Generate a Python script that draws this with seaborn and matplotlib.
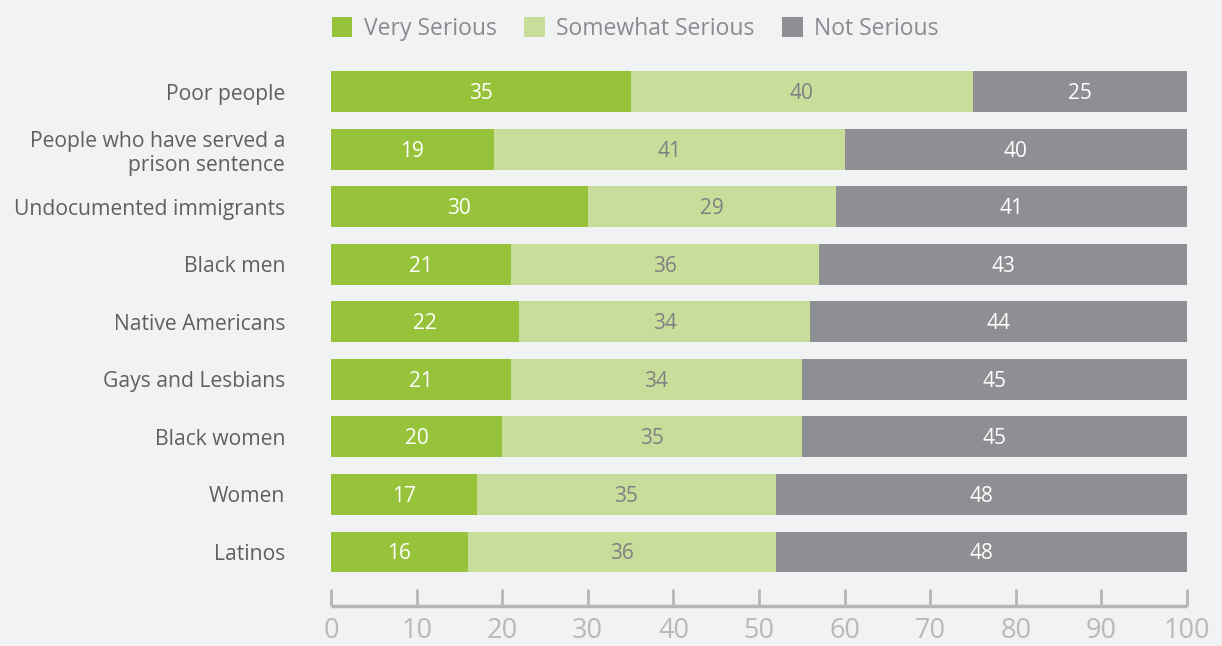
import pandas as pd
import matplotlib.pyplot as plt
import seaborn as sns
from matplotlib.patches import Patch

# --- data ---
groups = [
    'Poor people',
    'People who have served a\nprison sentence',
    'Undocumented immigrants',
    'Black men',
    'Native Americans',
    'Gays and Lesbians',
    'Black women',
    'Women',
    'Latinos',
]
very_serious = [35, 19, 30, 21, 22, 21, 20, 17, 16]
somewhat_serious = [40, 41, 29, 36, 34, 34, 35, 35, 36]
not_serious = [25, 40, 41, 43, 44, 45, 45, 48, 48]
series_names = ['Very Serious', 'Somewhat Serious', 'Not Serious']
x_ticks = [0, 10, 20, 30, 40, 50, 60, 70, 80, 90, 100]

colors = ['#97c33b', '#c9dd9a', '#8e8f92']
bg = '#f1f2f4'

df = pd.DataFrame({
    'group': groups,
    'very': very_serious,
    'somewhat': somewhat_serious,
    'not': not_serious,
})
df['cum1'] = df['very']
df['cum2'] = df['very'] + df['somewhat']
df['cum3'] = df['cum2'] + df['not']

sns.set_style('white')
plt.rcParams['font.family'] = ['Open Sans', 'DejaVu Sans']

fig = plt.figure(figsize=(12.22, 6.46), dpi=100, facecolor=bg)
ax = fig.add_axes([331 / 1222, 40 / 646, 856 / 1222, 543 / 646])
ax.set_facecolor(bg)

# stacked bars: draw cumulative totals from the back to the front
for col, c in zip(['cum3', 'cum2', 'cum1'], colors[::-1]):
    sns.barplot(data=df, y='group', x=col, orient='h', color=c,
                width=0.71, saturation=1, linewidth=0, ax=ax)

# segment labels
for i, row in df.iterrows():
    segs = [(row['very'], 0, 'white'),
            (row['somewhat'], row['cum1'], '#7f8083'),
            (row['not'], row['cum2'], 'white')]
    for val, left, tc in segs:
        ax.text(left + val / 2, i + 0.03, f'{val}', ha='center', va='center',
                fontsize=15, color=tc)

ax.set_xlim(0, 100)
ax.set_ylim(8.94, -0.5)
ax.set_xlabel('')
ax.set_ylabel('')
ax.set_xticks(x_ticks)
ax.tick_params(axis='x', bottom=True, direction='in', length=12, width=2,
               color='#b5b6b8', labelsize=19.5, labelcolor='#b8b9bb', pad=8)
ax.tick_params(axis='y', left=False, length=0, labelsize=15.2,
               labelcolor='#5f6062', pad=33)
for lbl in ax.get_yticklabels():
    lbl.set_horizontalalignment('right')
    lbl.set_multialignment('right')

for s in ['top', 'right', 'left']:
    ax.spines[s].set_visible(False)
ax.spines['bottom'].set_color('#b5b6b8')
ax.spines['bottom'].set_linewidth(2.5)
ax.spines['bottom'].set_capstyle('butt')

handles = [Patch(facecolor=c, edgecolor='none') for c in colors]
fig.legend(handles, series_names, loc='upper left', bbox_to_anchor=(311 / 1222, 1.006),
           ncol=3, frameon=False, fontsize=16.5, labelcolor='#8a8b8e',
           handlelength=0.9, handleheight=1.0, handletextpad=0.5, columnspacing=1.2)

plt.savefig('out.png', dpi=100, facecolor=bg)
plt.close()
